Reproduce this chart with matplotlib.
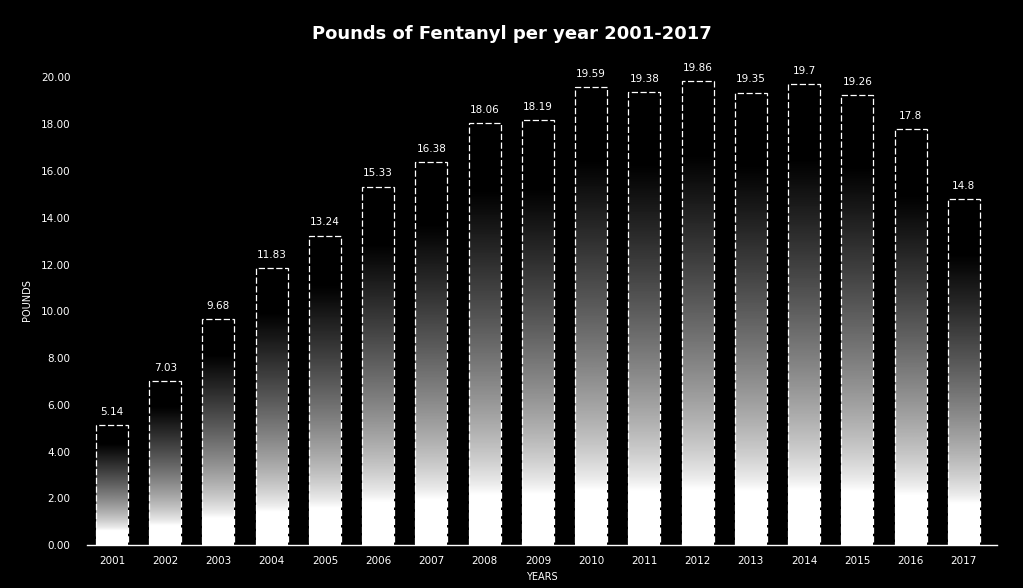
import matplotlib
matplotlib.use("Agg")
import matplotlib.pyplot as plt
import numpy as np

# data
years = ['2001', '2002', '2003', '2004', '2005', '2006', '2007', '2008', '2009',
         '2010', '2011', '2012', '2013', '2014', '2015', '2016', '2017']
pounds = [5.14, 7.03, 9.68, 11.83, 13.24, 15.33, 16.38, 18.06, 18.19,
          19.59, 19.38, 19.86, 19.35, 19.7, 19.26, 17.8, 14.8]
value_labels = ['5.14', '7.03', '9.68', '11.83', '13.24', '15.33', '16.38', '18.06', '18.19',
                '19.59', '19.38', '19.86', '19.35', '19.7', '19.26', '17.8', '14.8']
yticks = [0, 2, 4, 6, 8, 10, 12, 14, 16, 18, 20]

fig = plt.figure(figsize=(10.23, 5.88), dpi=100, facecolor='black')
ax = fig.add_axes([0.085, 0.073, 0.89, 0.835], facecolor='black')

x = np.arange(len(years))
width = 0.6

# white at the bottom fading to black near the top of each bar
grad = np.linspace(0, 1, 256).reshape(-1, 1)
grad = np.clip((grad - 0.12) / 0.72, 0, 1) ** 0.75
for xi, h in zip(x, pounds):
    ax.imshow(1 - grad, cmap='gray', vmin=0, vmax=1, origin='lower', aspect='auto',
              extent=[xi - width / 2, xi + width / 2, 0, h], interpolation='bilinear', zorder=2)

ax.bar(x, pounds, width=width, fill=False, edgecolor='white', linewidth=0.9,
       linestyle=(0, (5, 2)), zorder=3)

for xi, h, lab in zip(x, pounds, value_labels):
    ax.text(xi, h + 0.35, lab, ha='center', va='bottom', color='white', fontsize=7.5, zorder=4)

ax.set_xlim(-0.47, 16.63)
ax.set_ylim(0, 21)
ax.set_xticks(x)
ax.set_xticklabels(years)
ax.set_yticks(yticks)
ax.set_yticklabels(['%.2f' % v for v in yticks])
ax.tick_params(colors='white', labelsize=7.5, length=0)
ax.tick_params(axis='x', pad=8)
ax.tick_params(axis='y', pad=12)

for side in ['top', 'right', 'left']:
    ax.spines[side].set_visible(False)
ax.spines['bottom'].set_color('white')
ax.spines['bottom'].set_linewidth(1)

ax.set_ylabel('POUNDS', color='white', fontsize=7, labelpad=6)
ax.set_xlabel('YEARS', color='white', fontsize=7, labelpad=4)
fig.suptitle('Pounds of Fentanyl per year 2001-2017', color='white', fontsize=13,
             fontweight='bold', y=0.958)

fig.savefig('out.png', dpi=100, facecolor='black')
